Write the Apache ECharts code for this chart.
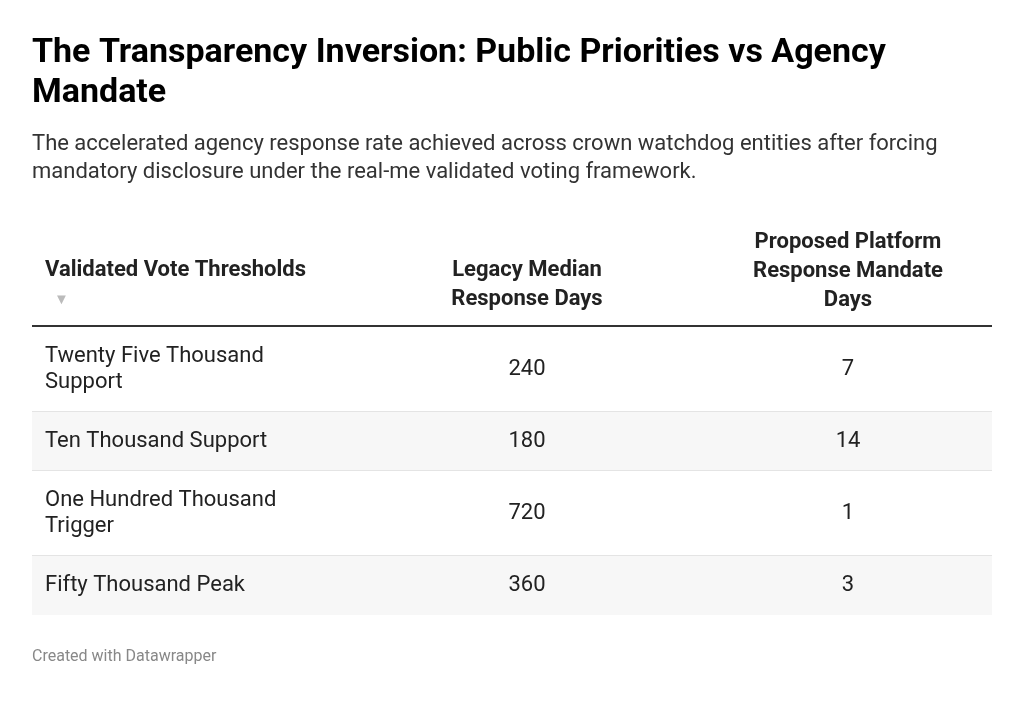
<!DOCTYPE html>
<html>
<head>
<meta charset="utf-8">
<script src="https://cdn.jsdelivr.net/npm/echarts@6/dist/echarts.min.js"></script>
<style>
  html, body { margin: 0; padding: 0; background: #fff; }
  #chart { width: 1024px; height: 701px; }
</style>
</head>
<body>
<div id="chart"></div>
<script>
// table data
var headers = ['Validated Vote Thresholds', 'Legacy Median\nResponse Days', 'Proposed Platform\nResponse Mandate\nDays'];
var thresholds = ['Twenty Five Thousand Support', 'Ten Thousand Support', 'One Hundred Thousand Trigger', 'Fifty Thousand Peak'];
var legacyDays = [240, 180, 720, 360];
var mandateDays = [7, 14, 1, 3];
var rowLines = [2, 1, 2, 1]; // text lines in each row

var font = 'Roboto, "Noto Sans", sans-serif';

// row extents in axis units (one line ~26 units, padding 33)
var rowStart = [], rowEnd = [], acc = 0;
rowLines.forEach(function (n) {
  rowStart.push(acc);
  acc += n * 26 + 33;
  rowEnd.push(acc);
});

var rows = thresholds.map(function (t, i) {
  return [i, rowStart[i], rowEnd[i], legacyDays[i], mandateDays[i]];
});

var chart = echarts.init(document.getElementById('chart'));

chart.setOption({
  backgroundColor: '#fff',
  title: [{
    text: 'The Transparency Inversion: Public Priorities vs Agency\nMandate',
    left: 27, top: 28,
    textStyle: { fontFamily: font, fontSize: 34, fontWeight: 'bold', color: '#000', lineHeight: 40 }
  }, {
    text: 'The accelerated agency response rate achieved across crown watchdog entities after forcing\nmandatory disclosure under the real-me validated voting framework.',
    left: 27, top: 125,
    textStyle: { fontFamily: font, fontSize: 22, fontWeight: 'normal', color: '#333', lineHeight: 28 }
  }, {
    text: 'Created with Datawrapper',
    left: 27, top: 644,
    textStyle: { fontFamily: font, fontSize: 16, fontWeight: 'normal', color: '#888' }
  }],
  grid: { left: 32, right: 32, top: 327, height: acc },
  xAxis: { type: 'value', min: 0, max: 960, show: false },
  yAxis: { type: 'value', min: 0, max: acc, inverse: true, show: false },
  graphic: [
    { type: 'text', x: 45, y: 270, style: { text: headers[0], font: 'bold 22px ' + font, fill: '#222', verticalAlign: 'middle' } },
    { type: 'text', x: 54, y: 300, style: { text: '▼', font: '15px ' + font, fill: '#bbb', verticalAlign: 'middle' } },
    { type: 'text', x: 527, y: 285, style: { text: headers[1], font: 'bold 22px ' + font, fill: '#222', align: 'center', verticalAlign: 'middle', lineHeight: 29 } },
    { type: 'text', x: 848, y: 271, style: { text: headers[2], font: 'bold 22px ' + font, fill: '#222', align: 'center', verticalAlign: 'middle', lineHeight: 29 } },
    { type: 'rect', x: 32, y: 325, shape: { width: 960, height: 3 }, style: { fill: '#333' } }
  ],
  series: [{
    type: 'custom',
    data: rows,
    renderItem: function (params, api) {
      var i = api.value(0);
      var p0 = api.coord([0, api.value(1)]);
      var p1 = api.coord([960, api.value(2)]);
      var h = p1[1] - p0[1];
      var mid = p0[1] + h / 2;
      var c2 = api.coord([495, 0])[0];
      var c3 = api.coord([816, 0])[0];
      var children = [{
        type: 'rect',
        shape: { x: p0[0], y: p0[1], width: p1[0] - p0[0], height: h },
        style: { fill: i % 2 === 1 ? '#f7f7f7' : '#fff' }
      }];
      if (i < rows.length - 1) {
        children.push({
          type: 'rect',
          shape: { x: p0[0], y: p1[1] - 1, width: p1[0] - p0[0], height: 1 },
          style: { fill: '#e4e4e4' }
        });
      }
      children.push({
        type: 'text',
        style: { x: p0[0] + 13, y: mid, text: thresholds[i], width: 260, overflow: 'break',
          font: '22px ' + font, fill: '#222', verticalAlign: 'middle', lineHeight: 26 }
      }, {
        type: 'text',
        style: { x: c2, y: mid, text: String(api.value(3)), font: '22px ' + font, fill: '#222', align: 'center', verticalAlign: 'middle' }
      }, {
        type: 'text',
        style: { x: c3, y: mid, text: String(api.value(4)), font: '22px ' + font, fill: '#222', align: 'center', verticalAlign: 'middle' }
      });
      return { type: 'group', children: children };
    }
  }]
});
</script>
</body>
</html>
